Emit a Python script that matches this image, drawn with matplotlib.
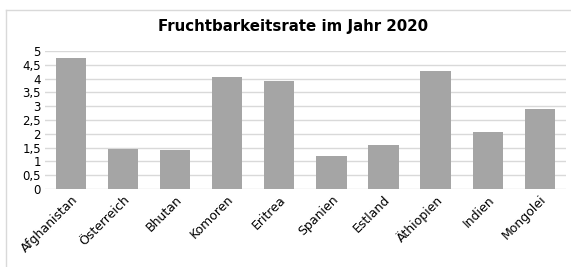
import matplotlib.pyplot as plt
from matplotlib.lines import Line2D

laender = ["Afghanistan", "Österreich", "Bhutan", "Komoren", "Eritrea",
           "Spanien", "Estland", "Äthiopien", "Indien", "Mongolei"]
raten = [4.75, 1.44, 1.43, 4.05, 3.93, 1.19, 1.58, 4.26, 2.05, 2.90]
y_ticks = [0, 0.5, 1, 1.5, 2, 2.5, 3, 3.5, 4, 4.5, 5]
y_labels = ["0", "0,5", "1", "1,5", "2", "2,5", "3", "3,5", "4", "4,5", "5"]

fig = plt.figure(figsize=(5.71, 2.67), dpi=100)
# hellgrauer Rahmen (nur oben und links sichtbar)
rx, ry = 5.5 / 571, 1 - 9.5 / 267
fig.lines.append(Line2D([rx, 1.0], [ry, ry], transform=fig.transFigure,
                        color="#d9d9d9", linewidth=1))
fig.lines.append(Line2D([rx, rx], [0.0, ry], transform=fig.transFigure,
                        color="#d9d9d9", linewidth=1))

ax = fig.add_axes([0.0788, 0.292, 0.912, 0.517])
ax.bar(range(len(laender)), raten, width=0.58, color="#a5a5a5", zorder=3)
ax.set_xlim(-0.5, len(laender) - 0.5)
ax.set_ylim(0, 5)
ax.set_yticks(y_ticks)
ax.set_yticklabels(y_labels, fontsize=8.5)
ax.set_xticks(range(len(laender)))
ax.set_xticklabels(laender, rotation=45, ha="right", rotation_mode="anchor",
                   fontsize=9)
ax.tick_params(length=0, pad=3)
ax.grid(axis="y", color="#d9d9d9", linewidth=1, zorder=0)
for s in ax.spines.values():
    s.set_visible(False)

fig.text(0.513, 0.902, "Fruchtbarkeitsrate im Jahr 2020", ha="center",
         va="center", fontsize=10.8, fontweight="bold")

plt.savefig("out.png", dpi=100)
plt.close()
